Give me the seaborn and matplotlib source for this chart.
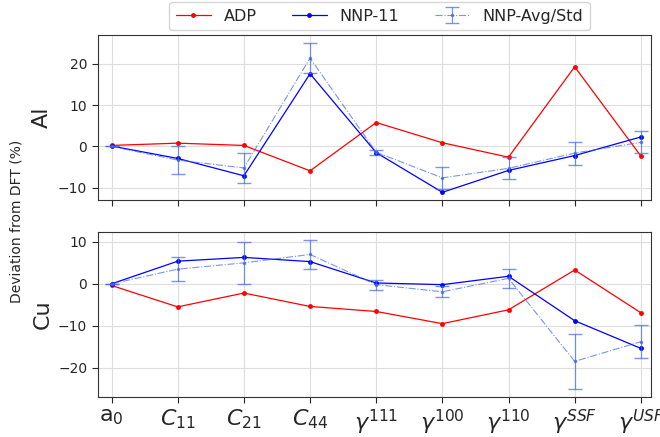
import numpy as np
import pandas as pd
import matplotlib.pyplot as plt
import seaborn as sns

# property labels on the x axis
props = ['a$_0$', '$C_{11}$', '$C_{21}$', '$C_{44}$', r'$\gamma^{111}$',
         r'$\gamma^{100}$', r'$\gamma^{110}$', r'$\gamma^{SSF}$', r'$\gamma^{USF}$']

# Al deviations (%)
al_adp = [0.25, 0.8, 0.25, -5.9, 5.8, 0.9, -2.6, 19.3, -2.3]
al_nnp = [0.1, -2.9, -7.1, 17.6, -1.5, -11.1, -5.8, -2.2, 2.3]
al_avg = [0.0, -3.3, -5.2, 21.4, -1.4, -7.6, -5.3, -1.6, 1.0]
al_std = [0.0, 3.3, 3.6, 3.7, 0.6, 2.7, 2.7, 2.8, 2.7]

# Cu deviations (%)
cu_adp = [-0.4, -5.5, -2.2, -5.4, -6.6, -9.5, -6.2, 3.3, -6.9]
cu_nnp = [0.0, 5.4, 6.3, 5.3, 0.2, -0.2, 1.8, -8.8, -15.4]
cu_avg = [0.0, 3.5, 5.0, 7.0, -0.2, -1.9, 1.3, -18.5, -13.8]
cu_std = [0.0, 2.9, 5.0, 3.5, 1.2, 1.3, 2.3, 6.5, 4.0]

sns.set_style('ticks')

fig = plt.figure(figsize=(6.6, 4.37), dpi=100)
ax1 = fig.add_axes([0.148, 0.542, 0.839, 0.378])
ax2 = fig.add_axes([0.148, 0.0915, 0.839, 0.378])

x = np.arange(len(props))

def draw(ax, adp, nnp, avg, std, name, ylim):
    df = pd.DataFrame({'x': x, 'ADP': adp, 'NNP-11': nnp})
    sns.lineplot(data=df, x='x', y='ADP', ax=ax, color='red', lw=0.9,
                 marker='o', markersize=3.5, markeredgewidth=0, label='ADP', legend=False)
    sns.lineplot(data=df, x='x', y='NNP-11', ax=ax, color='blue', lw=0.9,
                 marker='o', markersize=3.5, markeredgewidth=0, label='NNP-11', legend=False)
    ax.errorbar(x, avg, yerr=std, color='royalblue', ls='-.', lw=0.8, alpha=0.7,
                marker='.', markersize=3, capsize=5, elinewidth=0.9, label='NNP-Avg/Std')
    ax.set_xlim(-0.21, 8.16)
    ax.set_ylim(*ylim)
    ax.set_xticks(x)
    ax.grid(True, color='#dddddd', lw=0.8)
    ax.set_axisbelow(True)
    ax.set_ylabel(name, fontsize=16)
    ax.set_xlabel('')
    for s in ax.spines.values():
        s.set_visible(True)
        s.set_color('#333333')
    ax.tick_params(labelsize=10, length=4)

draw(ax1, al_adp, al_nnp, al_avg, al_std, 'Al', (-13, 27))
draw(ax2, cu_adp, cu_nnp, cu_avg, cu_std, 'Cu', (-27, 12.4))
ax1.set_yticks([-10, 0, 10, 20])
ax2.set_yticks([-20, -10, 0, 10])
ax1.set_xticklabels([])
ax2.set_xticklabels(props, fontsize=16)
ax1.yaxis.set_label_coords(-0.082, 0.5)
ax2.yaxis.set_label_coords(-0.082, 0.5)

fig.text(0.025, 0.494, 'Deviation from DFT (%)', rotation=90, va='center', ha='center', fontsize=10)

h, l = ax1.get_legend_handles_labels()
fig.legend(h, l, loc='upper center', bbox_to_anchor=(0.575, 1.013), ncol=3,
           fontsize=11.5, frameon=True, columnspacing=2.2, handlelength=2.2)

fig.savefig('out.png', dpi=100)
